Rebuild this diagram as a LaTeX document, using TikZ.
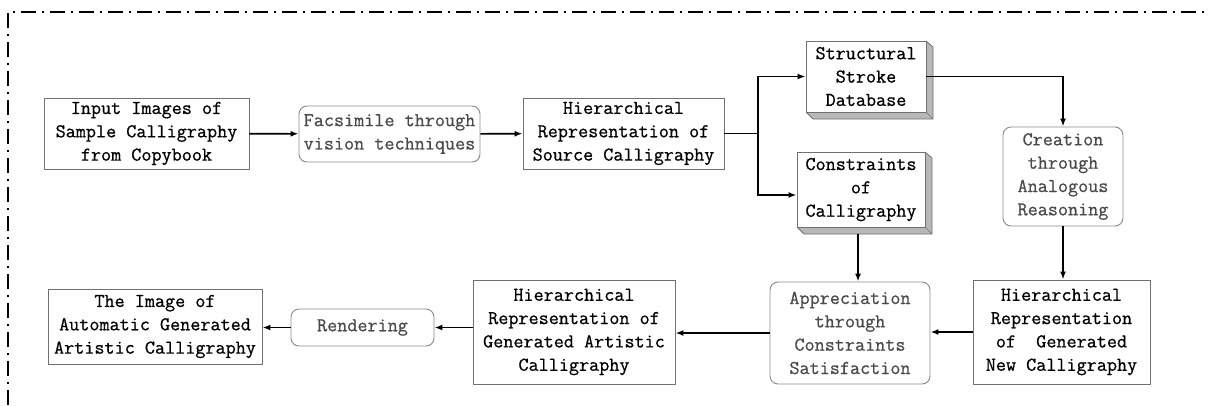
\documentclass[tikz,border=0pt]{standalone}
\usepackage{fontspec}
\newfontfamily\lbfont{Latin Modern Mono}[BoldFont=Latin Modern Mono, BoldFeatures={FakeBold=0.7}]
\usetikzlibrary{arrows.meta,calc}
\definecolor{rectline}{HTML}{707070}
\definecolor{roundline}{HTML}{8A8A8A}
\definecolor{roundtext}{HTML}{4A4A4A}
\definecolor{bevel}{HTML}{B8B8B8}
\tikzset{
  lbl/.style={font=\lbfont\bfseries\fontsize{14.7}{17.5}\selectfont, align=center, inner sep=0pt},
  rectbox/.style={lbl, draw=rectline, line width=0.7pt, text=black},
  roundbox/.style={lbl, draw=roundline, line width=0.7pt, rounded corners=6pt, text=roundtext},
  conn/.style={line width=1.2pt, -{Latex[length=6pt,width=4.5pt]}},
  frame/.style={line width=1pt, dash pattern=on 11.25pt off 4.2pt on 1.8pt off 4.5pt}
}
\begin{document}
\begin{tikzpicture}[x=0.75pt,y=-0.75pt]
\useasboundingbox (0,0) rectangle (1209,405);
% frame
\draw[frame] (8,405) -- (8,12) -- (1209,12);

% bevel shapes for 3D boxes
\newcommand{\bevelbox}[4]{% x1,y1,x2,y2 of front face
  \fill[bevel] (#3,#2) -- (#3+7,#2+6) -- (#3+7,#4+7) -- (#1+7,#4+7) -- (#1,#4) -- (#3,#4) -- cycle;
  \draw[rectline, line width=0.6pt] (#3,#2) -- (#3+7,#2+6) -- (#3+7,#4+7) -- (#1+7,#4+7) -- (#1,#4);
  \draw[rectline, line width=0.4pt] (#3,#4) -- (#3+7,#4+7);
}
\bevelbox{806}{41}{926}{112}
\bevelbox{797}{152}{925}{227}

\node[rectbox, minimum width=153.75pt, minimum height=53.25pt] (inp) at (146.5,133.5) {Input Images of\\Sample Calligraphy\\from Copybook};
\node[roundbox, minimum width=135.75pt, minimum height=42pt] (fac) at (389.5,134) {Facsimile through\\vision techniques};
\node[rectbox, minimum width=150.75pt, minimum height=53.25pt] (src) at (623.5,133.5) {Hierarchical\\Representation of\\Source Calligraphy};
\node[rectbox, fill=white, minimum width=90pt, minimum height=53.25pt] (ssd) at (866,76.5) {Structural\\Stroke\\Database};
\node[rectbox, fill=white, minimum width=96pt, minimum height=56.25pt] (con) at (861,189.5) {Constraints\\of\\Calligraphy};
\node[roundbox, minimum width=90pt, minimum height=74.25pt] (cre) at (1063,176.5) {Creation\\through\\Analogous\\Reasoning};
\node[rectbox, minimum width=132.75pt, minimum height=78pt] (gnew) at (1061.5,332) {Hierarchical\\Representation\\of\ \ Generated\\New Calligraphy};
\node[roundbox, minimum width=120pt, minimum height=76.5pt] (app) at (850,333) {Appreciation\\through\\Constraints\\Satisfaction};
\node[rectbox, minimum width=151.5pt, minimum height=78pt] (art) at (574,332) {Hierarchical\\Representation of\\Generated Artistic\\Calligraphy};
\node[roundbox, minimum width=107.25pt, minimum height=27.75pt] (ren) at (362.5,327.5) {Rendering};
\node[rectbox, minimum width=160.5pt, minimum height=56.25pt] (img) at (155,326.5) {The Image of\\Automatic Generated\\Artistic Calligraphy};

% connectors
\coordinate (br) at (758,133.5);
\draw[conn] (inp) -- (fac);
\draw[conn] (fac) -- (src);
\draw[line width=1.2pt] (src.east) -- (br);
\draw[conn] (br) |- (ssd.west);
\draw[conn] (br) |- ($(con.west)+(0,5.5)$);
\draw[conn] (ssd.east) -| (cre.north);
\draw[conn] (cre.south) -- (cre.south |- gnew.north);
\draw[conn] ($(con.south)+(-3,7)$) -- ($(con.south |- app.north)+(-3,0)$);
\draw[conn] (gnew.west) -- (gnew.west -| app.east);
\draw[conn] (app.west) -- (app.west -| art.east);
\draw[conn] (art.west |- ren.east) -- (ren.east);
\draw[conn] (ren.west) -- (ren.west -| img.east);
\end{tikzpicture}
\end{document}
